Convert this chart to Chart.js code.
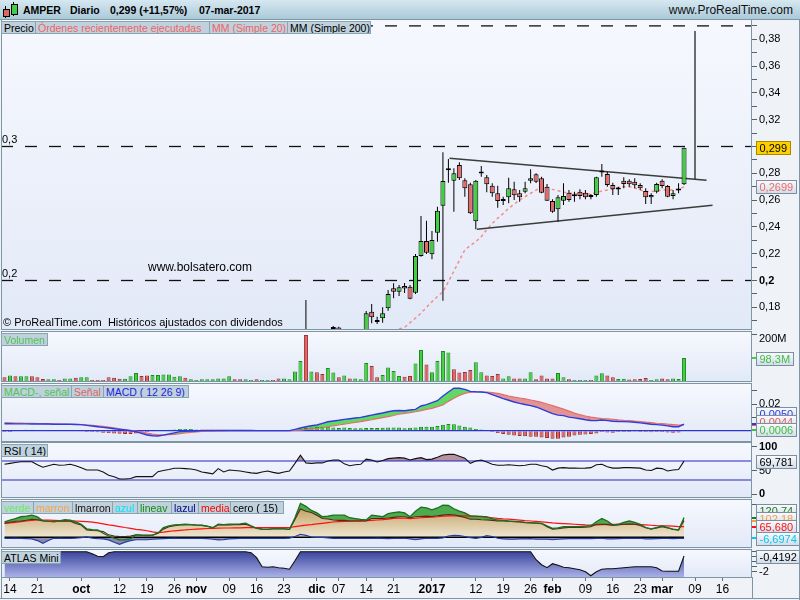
<!DOCTYPE html>
<html><head><meta charset="utf-8">
<script src="https://cdn.jsdelivr.net/npm/chart.js@4.4.0/dist/chart.umd.min.js"></script>
<style>
html,body{margin:0;padding:0;background:#eff3f8;}
#wrap{position:relative;width:800px;height:600px;overflow:hidden;font-family:"Liberation Sans",Arial,sans-serif;background:#eff3f8;}
canvas{position:absolute;left:0;top:0;}
.hdr{position:absolute;left:0;top:0;width:800px;height:19px;background:linear-gradient(#d6e8f1,#abc9d8);border-bottom:1px solid #7d98a7;z-index:5;}
.ht{position:absolute;top:4px;font-size:10.5px;font-weight:bold;color:#000;white-space:pre;z-index:6;}
.tag{position:absolute;box-sizing:border-box;height:13px;line-height:12px;font-size:10.5px;padding:0 2px;background:#bed1dc;border:1px solid #8aa3b1;white-space:nowrap;overflow:hidden;z-index:6;}
.txt{position:absolute;white-space:nowrap;z-index:6;color:#000;}
.ln{position:absolute;background:#7d95a5;z-index:6;}
</style></head>
<body>
<div id="wrap">
<canvas id="cMain" width="800" height="600"></canvas>
<canvas id="cVol" width="800" height="600"></canvas>
<canvas id="cMacd" width="800" height="600"></canvas>
<canvas id="cRsi" width="800" height="600"></canvas>
<canvas id="cInd" width="800" height="600"></canvas>
<canvas id="cAtlas" width="800" height="600"></canvas>

<div class="hdr"></div>
<div style="position:absolute;left:5px;top:6px;width:1px;height:12px;background:#000;z-index:6"></div>
<div style="position:absolute;left:3px;top:9px;width:5px;height:6px;background:#e06666;border:1px solid #000;z-index:7"></div>
<div style="position:absolute;left:13px;top:2px;width:1px;height:14px;background:#000;z-index:6"></div>
<div style="position:absolute;left:11px;top:4px;width:5px;height:9px;background:#44cc44;border:1px solid #000;z-index:7"></div>
<div class="ht" style="left:23px">AMPER</div>
<div class="ht" style="left:70px">Diario</div>
<div class="ht" style="left:110px">0,299 (+11,57%)</div>
<div class="ht" style="left:199px">07-mar-2017</div>
<div class="ht" style="right:7px;top:3px;font-size:12px;font-weight:normal;color:#111">www.ProRealTime.com</div>

<div class="tag" style="left:1px;top:21px;width:35px;color:#000">Precio</div>
<div class="tag" style="left:35px;top:21px;width:175px;color:#f06464">Órdenes recientemente ejecutadas</div>
<div class="tag" style="left:209px;top:21px;width:79px;color:#f06464">MM (Simple 20)</div>
<div class="tag" style="left:287px;top:21px;width:84px;color:#000">MM (Simple 200)</div>

<div class="txt" style="left:148px;top:260px;font-size:12px">www.bolsatero.com</div>
<div class="txt" style="left:3px;top:316px;font-size:11px">© ProRealTime.com&nbsp; Históricos ajustados con dividendos</div>

<div class="tag" style="left:1px;top:333px;width:47px;color:#52c452">Volumen</div>

<div class="tag" style="left:1px;top:385px;width:71px;color:#52c452">MACD-, señal</div>
<div class="tag" style="left:71px;top:385px;width:33px;color:#e06464">Señal</div>
<div class="tag" style="left:103px;top:385px;width:86px;color:#2222dd">MACD ( 12 26 9)</div>

<div class="tag" style="left:1px;top:444px;width:47px;color:#000">RSI ( 14)</div>

<div class="tag" style="left:1px;top:501px;width:33px;color:#66ee66">verde</div>
<div class="tag" style="left:33px;top:501px;width:40px;color:#f5a54a">marron</div>
<div class="tag" style="left:72px;top:501px;width:41px;color:#201008">lmarron</div>
<div class="tag" style="left:112px;top:501px;width:26px;color:#00e5ff">azul</div>
<div class="tag" style="left:137px;top:501px;width:35px;color:#128a12">lineav</div>
<div class="tag" style="left:171px;top:501px;width:28px;color:#000088">lazul</div>
<div class="tag" style="left:198px;top:501px;width:33px;color:#ff0000">media</div>
<div class="tag" style="left:230px;top:501px;width:54px;color:#000">cero ( 15)</div>

<div class="tag" style="left:1px;top:551px;width:60px;color:#000">ATLAS Mini</div>

<div class="ln" style="left:0;top:598px;width:800px;height:1px"></div>
<div class="ln" style="left:799px;top:20px;width:1px;height:580px"></div>
</div>

<script>
// ---------------- DATA ----------------
const FONT = '"Liberation Sans", Arial, sans-serif';

// trading days (plus empty future days shown on the time axis)
const dates = [
'2016-09-13','2016-09-14','2016-09-15','2016-09-16','2016-09-19','2016-09-20','2016-09-21','2016-09-22','2016-09-23','2016-09-26','2016-09-27','2016-09-28','2016-09-29','2016-09-30',
'2016-10-03','2016-10-04','2016-10-05','2016-10-06','2016-10-07','2016-10-10','2016-10-11','2016-10-12','2016-10-13','2016-10-14','2016-10-17','2016-10-18','2016-10-19','2016-10-20','2016-10-21','2016-10-24','2016-10-25','2016-10-26','2016-10-27','2016-10-28','2016-10-31',
'2016-11-01','2016-11-02','2016-11-03','2016-11-04','2016-11-07','2016-11-08','2016-11-09','2016-11-10','2016-11-11','2016-11-14','2016-11-15','2016-11-16','2016-11-17','2016-11-18','2016-11-21','2016-11-22','2016-11-23','2016-11-24','2016-11-25','2016-11-28','2016-11-29','2016-11-30',
'2016-12-01','2016-12-02','2016-12-05','2016-12-06','2016-12-07','2016-12-08','2016-12-09','2016-12-12','2016-12-13','2016-12-14','2016-12-15','2016-12-16','2016-12-19','2016-12-20','2016-12-21','2016-12-22','2016-12-23','2016-12-27','2016-12-28','2016-12-29','2016-12-30',
'2017-01-02','2017-01-03','2017-01-04','2017-01-05','2017-01-06','2017-01-09','2017-01-10','2017-01-11','2017-01-12','2017-01-13','2017-01-16','2017-01-17','2017-01-18','2017-01-19','2017-01-20','2017-01-23','2017-01-24','2017-01-25','2017-01-26','2017-01-27','2017-01-30','2017-01-31',
'2017-02-01','2017-02-02','2017-02-03','2017-02-06','2017-02-07','2017-02-08','2017-02-09','2017-02-10','2017-02-13','2017-02-14','2017-02-15','2017-02-16','2017-02-17','2017-02-20','2017-02-21','2017-02-22','2017-02-23','2017-02-24','2017-02-27','2017-02-28',
'2017-03-01','2017-03-02','2017-03-03','2017-03-06','2017-03-07',
'2017-03-08','2017-03-09','2017-03-10','2017-03-13','2017-03-14','2017-03-15','2017-03-16','2017-03-17','2017-03-20','2017-03-21','2017-03-22'
];
const tickDates = ['2016-09-14','2016-09-21','2016-10-03','2016-10-12','2016-10-19','2016-10-26','2016-11-01','2016-11-09','2016-11-16','2016-11-23','2016-12-01','2016-12-07','2016-12-14','2016-12-21','2017-01-02','2017-01-12','2017-01-19','2017-01-26','2017-02-01','2017-02-09','2017-02-16','2017-02-23','2017-03-01','2017-03-09','2017-03-16'];
const tickText  = ['14','21','oct','12','19','26','nov','09','16','23','dic','07','14','21','2017','12','19','26','feb','09','16','23','mar','09','16'];

// candles visible in the price window (from 2016-11-29); null = entirely below the visible range
const CANDLE_FROM = '2016-11-29';
const cOpen  = [0.157,null,null,null,null,0.159,0.165,null,null,null,null,0.160,0.1767,0.1695,0.1718,0.1793,0.1942,0.1916,0.1959,0.1954,0.1909,0.2183,0.2295,0.2196,0.2357,0.2558,0.2825,0.2745,0.2862,0.2748,0.2718,0.2442,0.2798,0.2770,0.2707,0.2651,0.2594,0.2621,0.2681,0.2651,0.2663,0.2745,0.2793,0.2763,0.2700,0.2593,0.2531,0.2596,0.2655,0.2629,0.2663,0.2655,0.2627,0.2638,0.2805,0.2795,0.2713,0.2683,0.2745,0.2745,0.2737,0.2713,0.2668,0.2621,0.2663,0.2745,0.2705,0.2631,0.2672,0.2718];
const cHigh  = [0.1855,null,null,null,null,0.166,0.1655,null,null,null,null,0.1772,0.1825,0.173,0.180,0.1929,0.1979,0.1966,0.1981,0.1966,0.2198,0.2481,0.2446,0.2370,0.2551,0.2957,0.2907,0.2837,0.2882,0.2763,0.2730,0.2750,0.2854,0.2787,0.2725,0.2707,0.2625,0.2767,0.2737,0.2675,0.2737,0.2830,0.2800,0.2775,0.2720,0.2606,0.2638,0.2725,0.2675,0.2663,0.2681,0.2675,0.2645,0.2775,0.2870,0.2812,0.2730,0.2700,0.2770,0.2755,0.2763,0.2725,0.2688,0.2651,0.2730,0.2755,0.2713,0.2675,0.2725,0.2990];
const cLow   = [0.154,null,null,null,null,0.155,0.156,null,null,null,null,0.158,0.168,0.1675,0.1685,0.1775,0.1867,0.1884,0.1907,0.1860,0.1899,0.2178,0.2198,0.2158,0.2290,0.1849,0.2730,0.2513,0.2750,0.2625,0.2496,0.2382,0.2775,0.2658,0.2625,0.2543,0.2563,0.2576,0.2601,0.2588,0.2651,0.2725,0.2728,0.2651,0.2593,0.2506,0.2439,0.2563,0.2588,0.2588,0.2606,0.2606,0.2606,0.2625,0.2775,0.2700,0.2638,0.2638,0.2688,0.2700,0.2688,0.2675,0.2571,0.2571,0.2651,0.2688,0.2621,0.2606,0.2651,0.2713];
const cClose = [0.159,null,null,null,null,0.160,0.158,null,null,null,null,0.1755,0.1725,0.1690,0.1755,0.1900,0.1916,0.1949,0.1940,0.1864,0.2183,0.2295,0.2207,0.2302,0.2521,0.2743,0.2822,0.2800,0.2763,0.2688,0.2501,0.2745,0.2802,0.2718,0.2651,0.2593,0.2598,0.2688,0.2636,0.2621,0.2688,0.2763,0.2737,0.2655,0.2596,0.2513,0.2621,0.2631,0.2601,0.2633,0.2631,0.2621,0.2623,0.2770,0.2809,0.2713,0.2681,0.2679,0.2720,0.2718,0.2711,0.2688,0.2621,0.2638,0.2720,0.2705,0.2625,0.2651,0.2680,0.2990];

// MM (Simple 20), visible part from 2016-12-22
const MA_FROM = '2016-12-22';
const ma20 = [0.1638,0.1650,0.1685,0.1720,0.1755,0.1800,0.1842,0.1880,0.1916,0.1990,0.2070,0.2150,0.2228,0.2262,0.2290,0.2327,0.2380,0.2425,0.2465,0.2500,0.2539,0.2570,0.2601,0.2625,0.2651,0.2675,0.2700,0.2695,0.2680,0.2670,0.2660,0.2652,0.2648,0.2645,0.2645,0.2648,0.2655,0.2668,0.2675,0.2680,0.2695,0.2700,0.2700,0.2690,0.2675,0.2665,0.2663,0.2668,0.2675,0.2675,0.2676,0.2680,0.2699];

// horizontal price levels and drawn objects (x in trading-day index units)
const hLevels = [0.39, 0.30, 0.20];
const hLevelText = ['', '0,3', '0,2'];
const trendUpperX = [81.2, 128.1], trendUpperY = [0.2912, 0.2748];
const trendLowerX = [86.2, 129.2], trendLowerY = [0.2382, 0.2561];
const targetX = [126, 126], targetY = [0.2755, 0.3862];

// volume (millions) and day direction (1 = up, 0 = down)
const volume = [15.7,24,20,20,20,20,16,8.5,7,7, 4,11,11,14,16,16,4,4,4,16, 14,10,10,20,34,21,23,26,26,28, 28,18.5,20,14,7,4,7,7,7,11, 11,20,7,7,7,4,7,4,4,4, 11,11,7,41,85,197,41,37,30,56, 36,16,23,11,11,7,77,64,16,26, 58,43,21,18.5,21,75,132,71,37,85, 128,122,50,36,38,47,80,37,24,21, 30,11,20,11,11,11,37,7,24,11, 11,34,16,7,4,4,4,4,24,33, 23,16,8.5,10,6,7,8.5,13,4,7, 11,7,11,8.5,98.3];
const volUp = [0,1,0,1,1,0,0,0,1,1, 0,1,1,0,1,1,0,0,0,0, 0,0,1,1,1,0,0,1,1,1, 1,1,1,0,1,1,1,1,1,1, 1,1,0,0,1,1,0,1,1,0, 0,1,1,1,1,0,1,0,0,1, 1,0,1,0,1,1,1,0,0,1, 1,1,1,0,0,1,1,0,1,1, 1,1,0,0,0,0,1,1,0,0, 0,1,1,0,0,1,1,0,0,0, 0,1,1,0,1,1,1,0,1,1, 0,0,1,1,0,0,0,0,1,1, 0,0,1,1,1];

// MACD (12 26 9)
const macd = [0.0052,0.0052,0.0051,0.0051,0.0051,0.0050,0.0050,0.0050,0.0050,0.0049, 0.0049,0.0048,0.0048,0.0047,0.0046,0.0040,0.0035,0.0030,0.0025,0.0020, 0.0015,0.0010,0.0005,0.0000,-0.0007,-0.0020,-0.0032,-0.0038,-0.0040,-0.0033, -0.0025,-0.0016,-0.0007,-0.0004,-0.0003,-0.0002,0.0002,0.0002,0.0002,0.0002, 0.0002,0.0002,0.0002,0.0002,0.0002,0.0002,0.0001,0.0001,0.0001,0.0001, 0.0001,0.0001,0.0001,0.0010,0.0020,0.0030,0.0037,0.0043,0.0055,0.0067, 0.0073,0.0078,0.0085,0.0090,0.0095,0.0100,0.0108,0.0117,0.0125,0.0133, 0.0142,0.0150,0.0152,0.0150,0.0155,0.0160,0.0185,0.0195,0.0210,0.0225, 0.0260,0.0290,0.0318,0.0318,0.0310,0.0295,0.0292,0.0290,0.0285,0.0270, 0.0255,0.0240,0.0228,0.0215,0.0205,0.0196,0.0188,0.0178,0.0162,0.0145, 0.0128,0.0117,0.0113,0.0102,0.0096,0.0090,0.0082,0.0077,0.0076,0.0080, 0.0076,0.0071,0.0069,0.0068,0.0066,0.0063,0.0059,0.0054,0.0049,0.0046, 0.0042,0.0036,0.0030,0.0030,0.0050];
const signal = [0.0060,0.0059,0.0058,0.0057,0.0056,0.0055,0.0054,0.0053,0.0052,0.0051, 0.0050,0.0049,0.0048,0.0047,0.0046,0.0044,0.0041,0.0037,0.0032,0.0027, 0.0021,0.0015,0.0009,0.0003,-0.0003,-0.0010,-0.0018,-0.0025,-0.0030,-0.0031, -0.0030,-0.0027,-0.0022,-0.0016,-0.0012,-0.0009,-0.0006,-0.0004,-0.0003,-0.0002, -0.0001,0,0,0,0,0,0,0,0,0, 0,0,0,0.0002,0.0005,0.0009,0.0012,0.0015,0.0022,0.0030, 0.0037,0.0043,0.0050,0.0056,0.0062,0.0068,0.0075,0.0082,0.0090,0.0098, 0.0106,0.0114,0.0125,0.0130,0.0135,0.0142,0.0150,0.0160,0.0168,0.0180, 0.0193,0.0220,0.0243,0.0265,0.0280,0.0288,0.0290,0.0290,0.0290,0.0285, 0.0280,0.0270,0.0260,0.0252,0.0245,0.0238,0.0230,0.0222,0.0212,0.0200, 0.0188,0.0175,0.0162,0.0147,0.0132,0.0120,0.0110,0.0102,0.0096,0.0091, 0.0089,0.0086,0.0081,0.0078,0.0076,0.0072,0.0069,0.0064,0.0061,0.0056, 0.0053,0.0049,0.0046,0.0043,0.0044];
const macdHist = [-0.001,-0.001,0,0,0.0008,0.0008,0,0,0,0, 0,0,0,0,-0.0006,-0.001,-0.001,-0.0012,-0.0015,-0.0018, -0.002,-0.0022,-0.0025,-0.0025,-0.002,-0.0015,-0.001,-0.0005,0,0.0003, 0.0008,0.001,0.0012,0.0012,0.0012,0.001,0.0008,0.0008,0.0008,0.0008, 0.0008,0.0008,0.0008,0.0008,0.0006,0.0006,0,0,0,0, 0,0,0,0.001,0.0015,0.002,0.0025,0.003,0.0028,0.003, 0.0025,0.002,0.0025,0.002,0.0018,0.0018,0.002,0.002,0.002,0.0022, 0.0025,0.0025,0.0025,0.0018,0.0022,0.0025,0.003,0.003,0.003,0.0035, 0.0045,0.005,0.0048,0.004,0.003,0.0025,0.0012,0.001,0.0005,-0.001, -0.0018,-0.0025,-0.003,-0.0035,-0.004,-0.0042,-0.0045,-0.0045,-0.005,-0.0055, -0.006,-0.006,-0.005,-0.0045,-0.0035,-0.003,-0.0028,-0.0025,-0.002,-0.001, -0.0013,-0.0015,-0.001,-0.001,-0.001,-0.0008,-0.001,-0.001,-0.0012,-0.001, -0.001,-0.0013,-0.0015,-0.0013,0.0006];

// RSI (14)
const rsi = [63,65,67,68.5,68.5,68.5,62,57,60,63, 61,61.6,63,60,56,51,51,51,47,40, 37,32,32,33,37,37,37,37,47.5,50, 52,54.6,54.6,54,53,51,47,45,43,54, 47,51,50,49,47,45,44,47,49,46, 44,47,49,65,82,66,65,66,66,70, 72,72,64,60,62,63,74,72,68,71, 75,76,77,76,72,75,77,73,74,78, 82.6,84,84,80,76,65,70,72,68,63, 61,61,62,61,60,61,63,63,60,58, 51,55,56,55,55,54.6,55,56,62,63, 58,55,55,56,56,55.6,55,51,50,55, 54,49,51,52,69.781];
const rsiLevels = [70, 30];

// custom indicator (15)
const verde = [95,106,115,126,130,136,125,102,98,96, 100,108,105,95,80,52,47,45,25,8, -5,-16,-15,-10,15,12,10,12,25,59, 70,76,78,80,78,75,74,68,59,80, 78,80,80,82,86,70,55,50,49,52, 52,52,49,120,208,190,165,150,126,130, 136,136,136,120,115,110,106,136,132,126, 145,152,156,150,126,160,185,180,168,180, 197,195,175,160,150,132,130,128,125,115, 106,104,100,98,96,92,90,88,86,70, 55,58,65,65,65,65,68,71,95,115, 100,75,80,92,100,92,80,60,51,60, 71,60,50,45,120.74];
const marron = [86,92,98,100,105,111,108,100,98,96, 98,100,98,85,75,45,42,40,35,15, 8,4,5,8,15,14,14,14,25,50, 65,71,75,78,78,75,73,68,59,75, 75,76,78,78,80,68,55,50,49,52, 52,52,49,110,174,160,152,135,115,112, 106,104,104,100,100,100,100,115,115,115, 118,122,126,126,120,126,128,130,128,132, 136,140,138,130,122,111,111,108,106,104, 100,100,98,96,94,90,88,86,84,65, 49,52,58,60,60,60,62,65,80,80, 78,72,75,80,82,80,72,58,51,58, 65,58,48,45,102.18];
const media = [86,88,92,96,100,104,106,106,105,104, 103,102,101,100,98,96,93,88,82,76, 72,66,60,55,49,45,40,33,29,32, 36,40,43,45,48,50,52,54,55,56, 57,57,58,58,59,59,59,59,59,59, 59,59,60,65,70,75,78,82,86,90, 94,96,98,99,100,101,102,104,106,108, 112,116,118,117,115,117,120,122,124,126, 130,132,132,132,131,130,128,126,124,120, 116,113,111,108,105,102,100,98,95,92, 88,86,84,82,80,78,76,75,76,78, 79,79,80,80,80,80,78,76,74,72, 71,70,68,66,65.68];
const azul = [-6,-6,-5,-6,-8,-10,-20,-37,-20,-6, -5,-6,-6,-5,-2,3,-5,-8,-10,-16, -30,-43,-30,-20,-15,-15,-15,-12,-10,-8, -6,-5,-6,-6,-6,-6,-6,-8,-12,-16, -14,-10,-8,-6,-6,-6,-6,-6,-6,-6, -6,-6,-5,5,18,12,2,0,0,-3, -6,-6,-6,-6,-6,-6,-6,-6,-5,-6, -8,-6,-6,-6,-10,-15,-10,-6,-6,-6, -3,8,12,10,5,-2,-6,0,10,5, -6,-10,-12,-12,-10,-10,-8,-12,-12,-12, -15,-12,-10,-8,-8,-8,-8,-8,-6,-6, -10,-10,-8,-6,-6,-6,-6,-10,-10,-8, -6,-6,-8,-6,-6.6974];

// ATLAS Mini
const atlas = [0,0,0,0,0,0,0,0,0,0, 0,0,0,0,0,0,-0.2,-0.45,-0.5,-0.1, 0,0,0,0,0,0,0,0,0,0, 0,0,0,0,0,0,0,0,0,0, 0,0,0,0,0,-0.1,-0.6,-1.5,-1.55,-1.5, -1.6,-1.65,-1.75,-0.9,0,0,0,0,0,0, 0,0,0,0,0,0,0,0,0,0, 0,0,0,0,0,0,0,0,0,0, 0,0,0,0,0,0,0,0,0,0, 0,0,0,0,0,0,0,-0.8,-1.3,-1.6, -1.2,-1.35,-1.55,-1.6,-1.7,-1.8,-2.0,-2.4,-2.0,-1.75, -1.7,-1.7,-1.65,-1.6,-1.55,-1.5,-1.5,-1.5,-1.5,-1.6, -1.93,-1.95,-1.95,-1.95,-0.4192];

// axis ticks
const priceTicks = [0.17,0.18,0.19,0.20,0.21,0.22,0.23,0.24,0.25,0.26,0.27,0.28,0.29,0.30,0.31,0.32,0.33,0.34,0.35,0.36,0.37,0.38,0.39];
const volTicks = [200];
const macdTicks = [0, 0.01, 0.02, 0.03];
const rsiTicks = [0, 50, 100];
const indTicks = [0, 100, 200];
const atlasTicks = [0, -0.5, -1, -1.5, -2];

// ---------------- HELPERS ----------------
const X_MIN = -0.64, X_MAX = 136.4;
const idx = d => dates.indexOf(d);
const pts = (arr, start) => arr.map((v, k) => v == null ? null : {x: start + k, y: v}).filter(p => p);
const pairPts = (xs, ys) => xs.map((x, k) => ({x, y: ys[k]}));
const comma = (v, d) => v.toFixed(d).replace('.', ',');
const GREEN = '#3fcf3f', RED = '#e36a6a';

const panelPlugin = {
  id: 'panelbg',
  beforeDraw(chart) {
    const {ctx, chartArea: a} = chart;
    const g = ctx.createLinearGradient(0, a.top, 0, a.bottom);
    g.addColorStop(0, '#f6f8fe'); g.addColorStop(1, '#e2e9f7');
    ctx.save(); ctx.fillStyle = g;
    ctx.fillRect(a.left, a.top, a.right - a.left, a.bottom - a.top); ctx.restore();
  },
  afterDraw(chart) {
    const {ctx, chartArea: a} = chart;
    ctx.save(); ctx.strokeStyle = '#7d95a5'; ctx.lineWidth = 1;
    ctx.strokeRect(Math.round(a.left) + 0.5, Math.round(a.top) - 0.5, Math.round(a.right - a.left) - 1, Math.round(a.bottom - a.top) + 1);
    ctx.restore();
  }
};

function drawBox(ctx, yc, text, color, bg, border) {
  ctx.save();
  ctx.font = '11px ' + FONT;
  const w = Math.ceil(ctx.measureText(text).width) + 6, h = 13;
  const x = 756, y = Math.round(yc - h / 2);
  let fill = bg;
  if (!bg) { fill = ctx.createLinearGradient(0, y, 0, y + h); fill.addColorStop(0, '#fbfcfe'); fill.addColorStop(1, '#d3dde9'); }
  ctx.fillStyle = fill; ctx.fillRect(x + 0.5, y + 0.5, w, h);
  ctx.strokeStyle = border || '#7b8fa2'; ctx.lineWidth = 1; ctx.strokeRect(x + 0.5, y + 0.5, w, h);
  ctx.fillStyle = color; ctx.textBaseline = 'middle'; ctx.textAlign = 'left';
  ctx.fillText(text, x + 3.5, y + h / 2 + 1);
  ctx.restore();
}
function mark(ctx, y, color) {
  ctx.save(); ctx.strokeStyle = color; ctx.lineWidth = 2;
  ctx.beginPath(); ctx.moveTo(752, Math.round(y)); ctx.lineTo(757, Math.round(y)); ctx.stroke(); ctx.restore();
}
// stack value boxes from the bottom one upwards so they do not overlap too much
function stackedBoxes(ctx, scale, items, sep) {
  const list = items.map(it => Object.assign({}, it, {ny: scale.getPixelForValue(it.v)}));
  list.sort((a, b) => b.ny - a.ny);
  let prev = Infinity;
  list.forEach(it => { it.y = Math.min(it.ny, prev - sep); prev = it.y; });
  list.forEach(it => mark(ctx, it.ny, it.mark || it.color));
  list.slice().reverse().forEach(it => drawBox(ctx, it.y, it.text, it.color));
}

function makeChart(id, cfg) {
  const bottomPad = cfg.showX ? 0 : 600 - cfg.bottom;
  return new Chart(document.getElementById(id), {
    type: 'bar',
    data: {datasets: cfg.datasets},
    options: {
      responsive: false, animation: false, devicePixelRatio: 1, events: [],
      layout: {padding: {left: 1, right: 8, top: cfg.top, bottom: bottomPad}},
      plugins: {legend: {display: false}, tooltip: {enabled: false}, filler: {drawTime: 'beforeDatasetsDraw', propagate: false}},
      scales: {
        x: {
          type: 'linear', min: X_MIN, max: X_MAX, display: !!cfg.showX, offset: false,
          afterBuildTicks: s => { s.ticks = tickDates.map(d => ({value: idx(d)})); },
          afterFit: s => { if (cfg.showX) s.height = 23; },
          grid: {drawOnChartArea: false, drawTicks: true, tickLength: 4, color: '#5d7180', offset: false},
          border: {display: false},
          ticks: {
            autoSkip: false, maxRotation: 0, padding: 1, color: '#000',
            font: c => ({family: FONT, size: 12, weight: (c.tick && /^[a-z]|^\d{4}$/.test(tickText[tickDates.indexOf(dates[c.tick.value])])) ? 'bold' : 'normal'}),
            callback: v => tickText[tickDates.indexOf(dates[v])]
          }
        },
        y: {
          type: 'linear', position: 'right', min: cfg.yMin, max: cfg.yMax,
          afterFit: s => { s.width = 40; },
          afterBuildTicks: s => { s.ticks = cfg.yTicks.map(v => ({value: v})); },
          grid: {drawOnChartArea: false, drawTicks: true, tickLength: 5, color: '#4e6272'},
          border: {display: false},
          ticks: {
            autoSkip: false, padding: 2, color: '#000', labelOffset: cfg.labelOffset || 0,
            font: c => ({family: FONT, size: 11, weight: (cfg.yBold && c.tick && cfg.yBold(c.tick.value)) ? 'bold' : 'normal'}),
            callback: v => cfg.yLabel(v)
          }
        }
      }
    },
    plugins: [panelPlugin, {id: 'extra', afterDraw: ch => { if (cfg.extra) cfg.extra(ch); }}]
  });
}

// ---------------- MAIN PRICE PANEL ----------------
const c0 = idx(CANDLE_FROM);
const wickData = [], bodyData = [], bodyColors = [];
cOpen.forEach((o, k) => {
  if (o == null) return;
  const c = cClose[k];
  wickData.push({x: c0 + k, y: [cLow[k], cHigh[k]]});
  bodyData.push({x: c0 + k, y: [Math.min(o, c), Math.max(o, c)]});
  bodyColors.push(c >= o ? GREEN : RED);
});
const lineBase = {type: 'line', pointRadius: 0, tension: 0, fill: false};
const mainDatasets = [
  {type: 'bar', data: bodyData, backgroundColor: bodyColors, borderColor: '#000', borderWidth: 1, borderSkipped: false,
   grouped: false, maxBarThickness: 5, categoryPercentage: 1, barPercentage: 1, minBarLength: 2, inflateAmount: 0},
  {type: 'bar', data: wickData, backgroundColor: '#000', borderWidth: 0, grouped: false, maxBarThickness: 1,
   categoryPercentage: 1, barPercentage: 1, inflateAmount: 0},
  Object.assign({}, lineBase, {data: pairPts(trendUpperX, trendUpperY), borderColor: '#3c3c3c', borderWidth: 1.4}),
  Object.assign({}, lineBase, {data: pairPts(trendLowerX, trendLowerY), borderColor: '#3c3c3c', borderWidth: 1.4}),
  Object.assign({}, lineBase, {data: pairPts(targetX, targetY), borderColor: '#111', borderWidth: 1.2}),
  ...hLevels.map(l => Object.assign({}, lineBase, {data: [{x: X_MIN, y: l}, {x: X_MAX, y: l}], borderColor: '#111', borderWidth: 1.3, borderDash: [12, 12]})),
  Object.assign({}, lineBase, {data: pts(ma20, idx(MA_FROM)), borderColor: '#f28c8c', borderWidth: 1.5, borderDash: [3, 3]})
];
makeChart('cMain', {
  top: 20, bottom: 329, yMin: 0.1638, yMax: 0.3944, yTicks: priceTicks,
  yLabel: v => (Math.round(v * 100) % 2 === 0 && v > 0.175 && v < 0.385) ? String(Math.round(v * 100) / 100).replace('.', ',') : '',
  yBold: v => hLevels.some(l => Math.abs(l - v) < 1e-6),
  datasets: mainDatasets,
  extra: ch => {
    const {ctx} = ch, y = ch.scales.y;
    ctx.save(); ctx.font = '11px ' + FONT; ctx.fillStyle = '#000'; ctx.textBaseline = 'bottom';
    hLevels.forEach((l, k) => { if (hLevelText[k]) ctx.fillText(hLevelText[k], 2, y.getPixelForValue(l) - 1); });
    ctx.restore();
    const last = cClose[cClose.length - 1], lastMa = ma20[ma20.length - 1];
    drawBox(ctx, y.getPixelForValue(lastMa), comma(lastMa, 4), '#f06a6a');
    drawBox(ctx, y.getPixelForValue(last), comma(last, 3), '#000', '#ffd000', '#a88a00');
  }
});

// ---------------- VOLUME ----------------
makeChart('cVol', {
  top: 332, bottom: 381, yMin: 0, yMax: 209.4, yTicks: volTicks, labelOffset: 5,
  yLabel: v => v + 'M',
  datasets: [{type: 'bar', data: pts(volume, 0), backgroundColor: volUp.map(u => u ? '#3fcf3f' : '#e25f5f'),
    borderColor: volUp.map(u => u ? '#1c8a1c' : '#9c2f2f'), borderWidth: 1, barThickness: 4, inflateAmount: 0}],
  extra: ch => {
    const v = volume[volume.length - 1], y = ch.scales.y.getPixelForValue(v);
    mark(ch.ctx, y, '#3fcf3f');
    drawBox(ch.ctx, y + 1, comma(v, 1) + 'M', '#3fc03f');
  }
});

// ---------------- MACD ----------------
makeChart('cMacd', {
  top: 384, bottom: 441, yMin: -0.0077, yMax: 0.035, yTicks: macdTicks,
  yLabel: v => Math.abs(v - 0.02) < 1e-9 ? '0,02' : '',
  datasets: [
    Object.assign({}, lineBase, {data: pts(macd, 0), borderColor: '#2d3be0', borderWidth: 1.4,
      fill: {target: 1, above: '#62d862', below: '#e39393'}}),
    Object.assign({}, lineBase, {data: pts(signal, 0), borderColor: '#e07070', borderWidth: 1.2}),
    Object.assign({}, lineBase, {data: [{x: X_MIN, y: 0}, {x: X_MAX, y: 0}], borderColor: '#2a35d8', borderWidth: 1.2}),
    {type: 'bar', data: pts(macdHist, 0), backgroundColor: macdHist.map(v => v >= 0 ? '#3fcf3f' : '#e25f5f'),
     borderColor: macdHist.map(v => v >= 0 ? '#1c8a1c' : '#9c2f2f'), borderWidth: 1, barThickness: 4, inflateAmount: 0}
  ],
  extra: ch => {
    const n = macd.length - 1;
    stackedBoxes(ch.ctx, ch.scales.y, [
      {v: macd[n], text: comma(macd[n], 4), color: '#2d3be0'},
      {v: signal[n], text: comma(signal[n], 4), color: '#e05a5a'},
      {v: macdHist[n], text: comma(macdHist[n], 4), color: '#3fc03f'}
    ], 8);
  }
});

// ---------------- RSI ----------------
makeChart('cRsi', {
  top: 443, bottom: 497, yMin: -5.8, yMax: 107.9, yTicks: rsiTicks,
  yLabel: v => String(v), yBold: v => v === 0 || v === 100,
  datasets: [
    Object.assign({}, lineBase, {data: pts(rsi, 0), borderColor: '#111', borderWidth: 1.1,
      fill: {value: 70, above: '#b8929c', below: 'rgba(0,0,0,0)'}}),
    ...rsiLevels.map(l => Object.assign({}, lineBase, {data: [{x: X_MIN, y: l}, {x: X_MAX, y: l}], borderColor: '#2424cc', borderWidth: 1.1}))
  ],
  extra: ch => {
    const v = rsi[rsi.length - 1];
    drawBox(ch.ctx, ch.scales.y.getPixelForValue(v), comma(v, 3), '#000');
  }
});

// ---------------- CUSTOM INDICATOR ----------------
const n0 = 0, nLast = verde.length - 1;
makeChart('cInd', {
  top: 500, bottom: 547, yMin: -59.5, yMax: 228.8, yTicks: indTicks,
  yLabel: v => '',
  datasets: [
    Object.assign({}, lineBase, {data: pts(verde, 0), borderColor: '#1d6e1d', borderWidth: 1.3,
      fill: {target: 1, above: '#4dab4d', below: 'rgba(0,0,0,0)'}}),
    Object.assign({}, lineBase, {data: pts(marron, 0), borderColor: '#4a2c18', borderWidth: 1.1, fill: 'origin',
      backgroundColor: c => {
        const a = c.chart.chartArea; if (!a) return '#d9c69c';
        const y = c.chart.scales.y;
        const g = c.chart.ctx.createLinearGradient(0, y.getPixelForValue(160), 0, y.getPixelForValue(0));
        g.addColorStop(0, '#c8aa70'); g.addColorStop(1, '#efe6d2'); return g;
      }}),
    Object.assign({}, lineBase, {data: pts(azul, 0), borderColor: '#1f3fa6', borderWidth: 1.2, fill: 'origin', backgroundColor: '#8d88ac'}),
    Object.assign({}, lineBase, {data: pts(media, 0), borderColor: '#ff1010', borderWidth: 1.2}),
    Object.assign({}, lineBase, {data: [{x: n0, y: 0}, {x: nLast, y: 0}], borderColor: '#000', borderWidth: 1.5})
  ],
  extra: ch => {
    stackedBoxes(ch.ctx, ch.scales.y, [
      {v: verde[nLast], text: comma(verde[nLast], 2), color: '#1d7a1d'},
      {v: marron[nLast], text: comma(marron[nLast], 2), color: '#f0a040'},
      {v: media[nLast], text: comma(media[nLast], 3), color: '#ff1010'},
      {v: azul[nLast], text: comma(azul[nLast], 4), color: '#00c8f0'}
    ], 8);
  }
});

// ---------------- ATLAS MINI (with time axis) ----------------
makeChart('cAtlas', {
  top: 550, bottom: 577, showX: true, yMin: -2.53, yMax: 0.17, yTicks: atlasTicks,
  yLabel: v => v === -2 ? '-2' : '',
  datasets: [
    Object.assign({}, lineBase, {data: pts(atlas, 0), borderColor: '#111', borderWidth: 1.1, fill: 'start',
      backgroundColor: c => {
        const a = c.chart.chartArea; if (!a) return '#5a63b0';
        const g = c.chart.ctx.createLinearGradient(0, a.top, 0, a.bottom);
        g.addColorStop(0, '#343f98'); g.addColorStop(1, '#a9b0e8'); return g;
      }})
  ],
  extra: ch => {
    const {ctx} = ch;
    ctx.save(); ctx.strokeStyle = '#7d95a5'; ctx.lineWidth = 1;
    ctx.strokeRect(1.5, 577.5, 751, 21); ctx.restore();
    const v = atlas[atlas.length - 1];
    drawBox(ctx, ch.scales.y.getPixelForValue(v) + 1, comma(v, 4), '#000');
  }
});
</script>
</body></html>
